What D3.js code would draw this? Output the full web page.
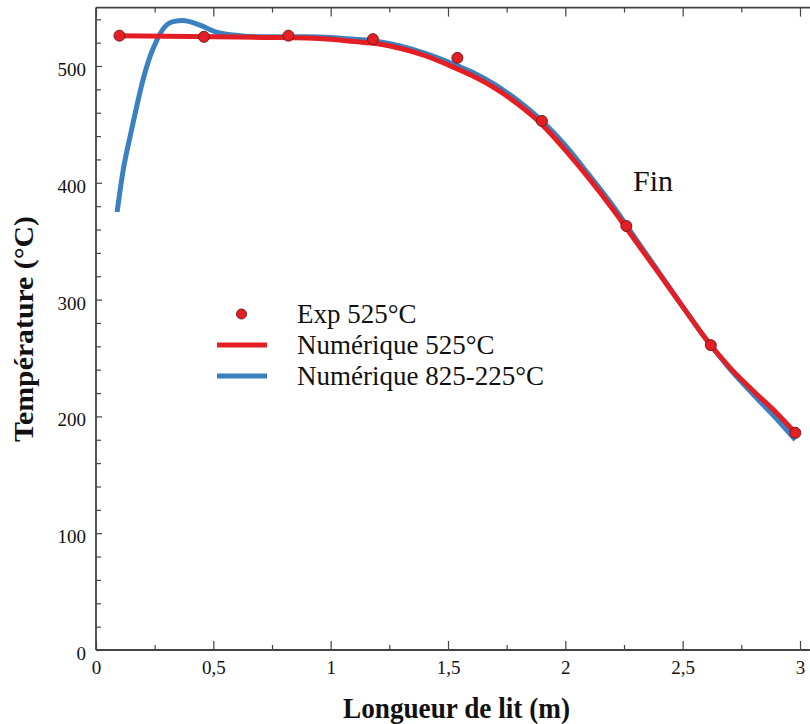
<!DOCTYPE html>
<html><head><meta charset="utf-8">
<script src="https://d3js.org/d3.v7.min.js"></script>
<style>body{margin:0;background:#fff}svg{display:block}</style>
</head><body><svg id="c" width="810" height="724"></svg>
<script>
// Data
const expX = [0.1, 0.46, 0.82, 1.18, 1.54, 1.9, 2.26, 2.62, 2.98];
const expY = [526, 525, 526, 523, 507, 453, 363, 261, 186];
const redX = [0.1, 0.3, 0.5, 0.7, 0.9, 1.0, 1.1, 1.2, 1.3, 1.4, 1.5, 1.6, 1.7, 1.8, 1.9, 2.0, 2.1, 2.2, 2.3, 2.4, 2.5, 2.6, 2.7, 2.8, 2.9, 2.98];
const redY = [526, 525.5, 525, 524.5, 524, 523, 521, 519, 515, 509, 501, 492, 481, 467, 450, 428, 404, 378, 350, 322, 294, 266, 242, 222, 203, 186];
const blueX = [0.09, 0.116, 0.145, 0.173, 0.2, 0.23, 0.259, 0.287, 0.329, 0.37, 0.443, 0.514, 0.585, 0.685, 0.8, 0.9, 1.0, 1.1, 1.2, 1.3, 1.4, 1.5, 1.6, 1.7, 1.8, 1.9, 2.0, 2.1, 2.2, 2.3, 2.4, 2.5, 2.6, 2.7, 2.8, 2.9, 2.98];
const blueY = [375, 411, 439.5, 465, 488, 508, 522, 532, 538, 539, 535, 529, 526.5, 525, 525, 525, 524.5, 523, 521, 517, 511, 503.5, 495, 484, 470, 453, 432, 407, 381, 352, 323, 294, 266, 241, 219, 198, 180];
const xTicks = [0, 0.5, 1, 1.5, 2, 2.5, 3];
const xTickLabels = ["0", "0,5", "1", "1,5", "2", "2,5", "3"];
const yTicks = [0, 100, 200, 300, 400, 500];
const legendLabels = ["Exp 525°C", "Numérique 525°C", "Numérique 825-225°C"];

const svg = d3.select("#c");
const L = 96, R = 812, T = 7.6, B = 650;
const x = d3.scaleLinear().domain([0, 3]).range([L, 800]);
const y = d3.scaleLinear().domain([0, 550]).range([B, T]);
const axisCol = "#444";
const font = "'Liberation Serif', 'Times New Roman', serif";

// minor ticks
const xMinor = d3.range(0, 3.01, 0.25).filter(v => Math.abs(v*2 - Math.round(v*2)) > 1e-6);
const yMinor = d3.range(0, 551, 20).filter(v => v % 100 !== 0);

const gx = svg.append("g").attr("transform", `translate(0,${B})`)
  .call(d3.axisBottom(x).tickValues(xTicks).tickFormat((d,i)=>xTickLabels[i]).tickSizeInner(-9).tickSizeOuter(0).tickPadding(11));
const gxm = svg.append("g").attr("transform", `translate(0,${B})`)
  .call(d3.axisBottom(x).tickValues(xMinor).tickFormat("").tickSizeInner(-5).tickSizeOuter(0));
const gt = svg.append("g").attr("transform", `translate(0,${T})`)
  .call(d3.axisTop(x).tickValues(xTicks).tickFormat("").tickSizeInner(-9).tickSizeOuter(0));
const gtm = svg.append("g").attr("transform", `translate(0,${T})`)
  .call(d3.axisTop(x).tickValues(xMinor).tickFormat("").tickSizeInner(-5).tickSizeOuter(0));
const gy = svg.append("g").attr("transform", `translate(${L},0)`)
  .call(d3.axisLeft(y).tickValues(yTicks).tickSizeInner(-6).tickSizeOuter(0).tickPadding(10));
const gym = svg.append("g").attr("transform", `translate(${L},0)`)
  .call(d3.axisLeft(y).tickValues(yMinor).tickFormat("").tickSizeInner(-5).tickSizeOuter(0));

[gx, gxm, gt, gtm, gy, gym].forEach(g => {
  g.attr("font-family", font).attr("font-size", 19);
  g.select(".domain").remove();
  g.selectAll("line").attr("stroke", axisCol).attr("stroke-width", 1.2);
  g.selectAll("text").attr("font-family", font).attr("font-size", 19).attr("fill", "#111");
});
gy.selectAll("text").attr("dy", "0.5em");
// frame lines
svg.append("line").attr("x1", L).attr("x2", R).attr("y1", B).attr("y2", B).attr("stroke", axisCol).attr("stroke-width", 1.8);
svg.append("line").attr("x1", L).attr("x2", R).attr("y1", T).attr("y2", T).attr("stroke", axisCol).attr("stroke-width", 1.8);
svg.append("line").attr("x1", L).attr("x2", L).attr("y1", T).attr("y2", B).attr("stroke", axisCol).attr("stroke-width", 1.8);

// lines
const blueData = blueX.map((v,i)=>[v, blueY[i]]);
const redData = redX.map((v,i)=>[v, redY[i]]);
const line = d3.line().x(d=>x(d[0])).y(d=>y(d[1])).curve(d3.curveMonotoneX);
svg.append("path").datum(blueData).attr("d", line).attr("fill","none").attr("stroke","#3b80c0").attr("stroke-width",5);
svg.append("path").datum(redData).attr("d", line).attr("fill","none").attr("stroke","#e31e24").attr("stroke-width",5);

// points
svg.selectAll("circle.exp").data(expX.map((v,i)=>[v, expY[i]])).enter().append("circle")
  .attr("class","exp").attr("cx", d=>x(d[0])).attr("cy", d=>y(d[1])).attr("r", 5.5)
  .attr("fill","#e31e24").attr("stroke","#7a1a1a").attr("stroke-width",1);

// legend
const lg = svg.append("g");
lg.append("circle").attr("cx", 241.5).attr("cy", 314).attr("r", 5).attr("fill","#e31e24").attr("stroke","#7a1a1a").attr("stroke-width",1);
lg.append("line").attr("x1",217).attr("x2",267).attr("y1",345).attr("y2",345).attr("stroke","#e31e24").attr("stroke-width",5);
lg.append("line").attr("x1",217).attr("x2",267).attr("y1",376).attr("y2",376).attr("stroke","#3b80c0").attr("stroke-width",5);
legendLabels.forEach((t,i)=>{
  lg.append("text").attr("x",297).attr("y",323 + i*31).text(t)
    .attr("font-family", font).attr("font-size", 27).attr("fill","#111");
});

// annotation
svg.append("text").attr("x", 633).attr("y", 191).text("Fin")
  .attr("font-family", font).attr("font-size", 30).attr("fill","#111");

// axis titles
svg.append("text").attr("x", 343).attr("y", 718)
  .attr("textLength", 227).attr("lengthAdjust", "spacingAndGlyphs")
  .text("Longueur de lit (m)").attr("font-family", font).attr("font-weight","bold").attr("font-size", 29).attr("fill","#111");
svg.append("text").attr("transform","translate(33,442) rotate(-90)")
  .attr("textLength", 226).attr("lengthAdjust", "spacingAndGlyphs")
  .text("Température (°C)").attr("font-family", font).attr("font-weight","bold").attr("font-size", 27).attr("fill","#111");
</script></body></html>
